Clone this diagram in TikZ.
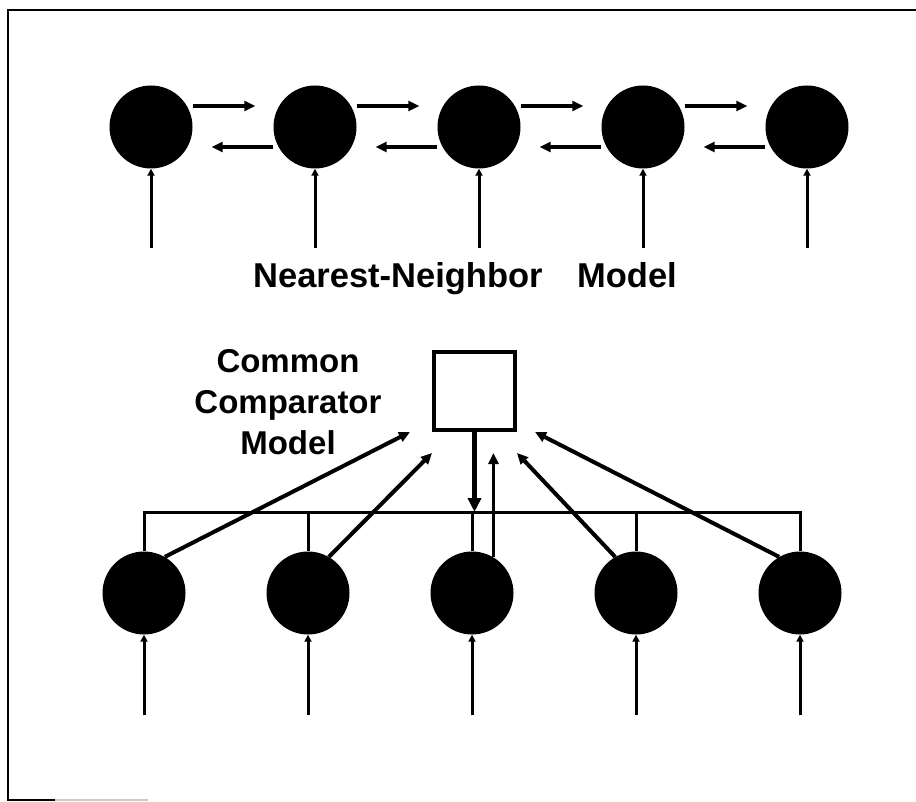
\documentclass[tikz,border=0pt]{standalone}
\usepackage{fontspec}
\setmainfont{Liberation Sans}
\usetikzlibrary{arrows.meta}
\begin{document}
\begin{tikzpicture}[x=1pt,y=-1pt,
		knoten/.style={circle, fill=black, minimum size=83pt, inner sep=0pt},
		pfeil/.style={-{Triangle[length=11pt,width=10pt]}, line width=4pt},
		eingang/.style={-{Triangle[length=7pt,width=7pt]}, line width=3pt},
		schrift/.style={font=\fontsize{33}{41}\selectfont\bfseries, inner sep=0pt}]
		\useasboundingbox (0,0) rectangle (916,802);
		
		% zeichne Rahmen
		\draw[line width=2pt] (916,10) -- (8,10) -- (8,800) -- (55,800);
		\draw[line width=2pt, gray!40] (55,800) -- (148,800);
		
		% zeichne Knoten oben (Nearest-Neighbor)
		\foreach \i in {1,...,5} {
			\node[knoten] (t\i) at ({151+164*(\i-1)},127) {};
			\coordinate (ti\i) at ({151+164*(\i-1)},248);
			\draw[eingang] (ti\i) -- (t\i);
		}
		
		% zeichne Pfeile zwischen Nachbarn
		\foreach \i in {1,...,4} {
			\pgfmathtruncatemacro{\j}{\i+1}
			\draw[pfeil] ([yshift=21pt]t\i.east) -- ([yshift=21pt,xshift=-18pt]t\j.west);
			\draw[pfeil] ([yshift=-20pt]t\j.west) -- ([yshift=-20pt,xshift=19pt]t\i.east);
		}
		
		% zeichne Labels
		\node[schrift, font=\fontsize{34.5}{41}\selectfont\bfseries, anchor=base] (nnm) at (465,288) {Nearest-Neighbor\quad Model};
		\node[schrift, align=center] (ccm) at (288,402) {Common\\Comparator\\Model};
		
		% zeichne Komparator
		\node[draw, line width=4pt, minimum width=81pt, minimum height=78pt, inner sep=0pt] (cmp) at (474.5,391) {};
		
		% zeichne Knoten unten mit Bus
		\coordinate (bus) at (0,512);
		\foreach \i in {1,...,5} {
			\node[knoten] (b\i) at ({144+164*(\i-1)},593) {};
			\coordinate (bi\i) at ({144+164*(\i-1)},715);
			\draw[eingang] (bi\i) -- (b\i);
			\draw[line width=3pt] (b\i) -- (b\i |- bus);
		}
		\draw[line width=3pt, line cap=rect] (b1 |- bus) -- (b5 |- bus);
		
		% zeichne Pfeile zum Komparator
		\draw[pfeil, -{Triangle[length=14pt,width=13pt]}, line width=4.5pt] (cmp) -- (cmp |- bus);
		\path (b3.59 |- cmp.south) ++(0,21) coordinate (hoch);
		\draw[pfeil, line width=3.5pt] (b3.59) -- (hoch);
		\draw[pfeil] (b1.60) -- ([xshift=-22pt]cmp.south west);
		\draw[pfeil] (b2.60) -- ([yshift=-21pt]cmp.south west);
		\draw[pfeil] (b4.120) -- ([yshift=-21pt]cmp.south east);
		\draw[pfeil] (b5.120) -- ([xshift=18pt]cmp.south east);
	\end{tikzpicture}
\end{document}
